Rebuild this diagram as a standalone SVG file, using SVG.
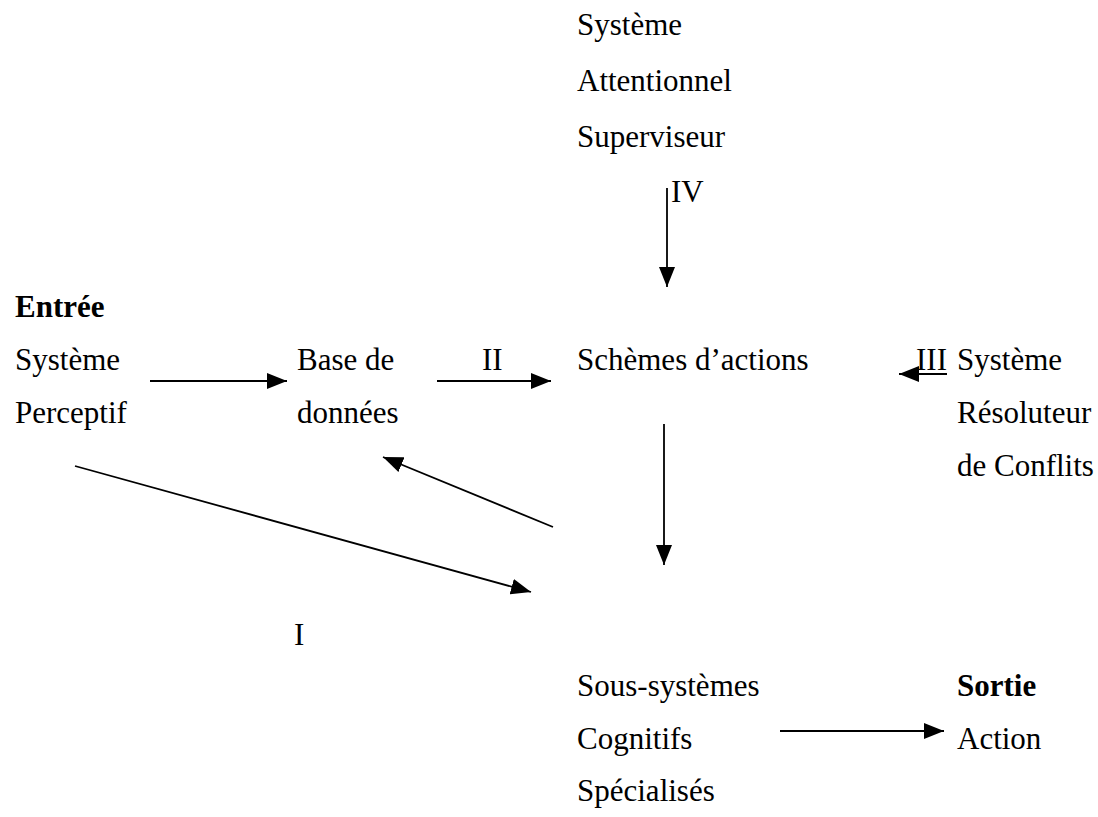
<svg xmlns="http://www.w3.org/2000/svg" width="1098" height="817" viewBox="0 0 1098 817">
<style>
text{font-family:"Liberation Serif","Times New Roman",serif;font-size:31px;fill:#000}
.b{font-weight:bold}
.c{stroke:#000;stroke-width:1.8;fill:none}
</style>
<defs>
<marker id="ah" viewBox="0 0 10 8" refX="10" refY="4" markerWidth="20" markerHeight="16" markerUnits="userSpaceOnUse" orient="auto">
<path d="M0,0 L10,4 L0,8 z" fill="#000"/>
</marker>
</defs>
<rect width="1098" height="817" fill="#fff"/>
<g id="sas"><text x="577" y="35">Système</text><text x="577" y="91">Attentionnel</text><text x="577" y="147">Superviseur</text></g>
<g id="entree"><text class="b" x="15" y="317">Entrée</text><text x="15" y="370">Système</text><text x="15" y="423">Perceptif</text></g>
<g id="base"><text x="297" y="370">Base de</text><text x="297" y="423">données</text></g>
<g id="schemes"><text x="577" y="370">Schèmes d’actions</text></g>
<g id="srs"><text x="957" y="370">Système</text><text x="957" y="423">Résoluteur</text><text x="957" y="476">de Conflits</text></g>
<g id="scs"><text x="577" y="696">Sous-systèmes</text><text x="577" y="749">Cognitifs</text><text x="577" y="801">Spécialisés</text></g>
<g id="sortie"><text class="b" x="957" y="696">Sortie</text><text x="957" y="749">Action</text></g>
<g id="connectors">
<line class="c" x1="667" y1="188" x2="667" y2="287" marker-end="url(#ah)"/>
<text x="671" y="202">IV</text>
<line class="c" x1="150" y1="381" x2="287" y2="381" marker-end="url(#ah)"/>
<line class="c" x1="437" y1="381" x2="551" y2="381" marker-end="url(#ah)"/>
<text x="482" y="370">II</text>
<line class="c" x1="947" y1="374" x2="899" y2="374" marker-end="url(#ah)"/>
<text x="916" y="370">III</text>
<line class="c" x1="664" y1="424" x2="664" y2="565" marker-end="url(#ah)"/>
<line class="c" x1="75" y1="466" x2="531" y2="592" marker-end="url(#ah)"/>
<line class="c" x1="553" y1="527" x2="383" y2="457" marker-end="url(#ah)"/>
<text x="294" y="645">I</text>
<line class="c" x1="780" y1="731" x2="944" y2="731" marker-end="url(#ah)"/>
</g>
</svg>
